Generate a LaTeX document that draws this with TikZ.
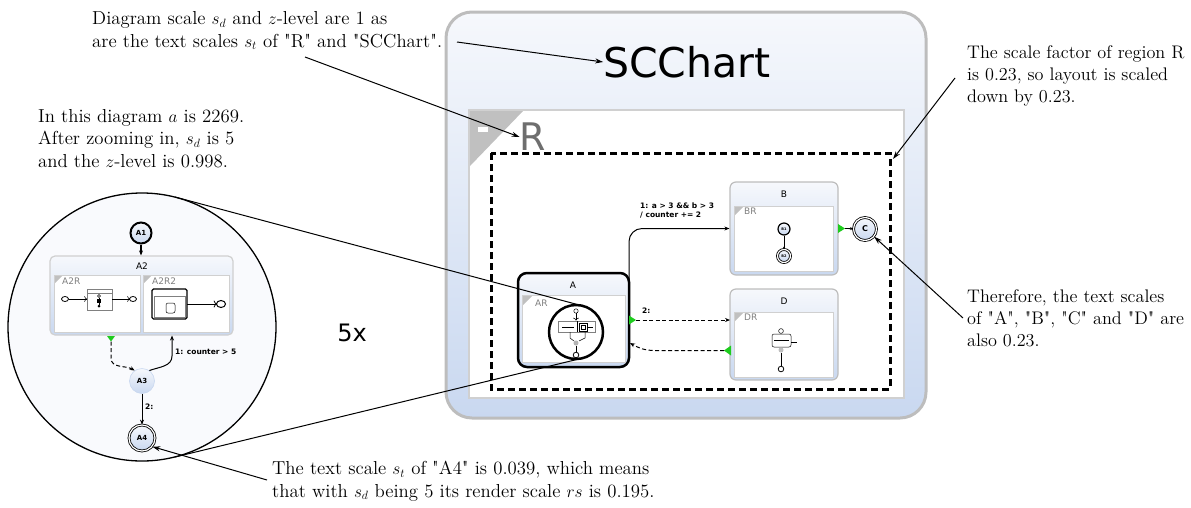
\documentclass[tikz,border=0pt]{standalone}
\usepackage{fontspec}
\newfontfamily\dv{DejaVu Sans}
\newfontfamily\annfam{lmroman12-regular.otf}[ItalicFont=lmroman12-italic.otf,BoldFont=lmroman12-bold.otf]
\usetikzlibrary{arrows.meta,calc}
\definecolor{stT}{HTML}{F6F8FC}
\definecolor{stB}{HTML}{C9D8F0}
\definecolor{bord}{HTML}{BDBDBD}
\definecolor{rbord}{HTML}{D0D0D0}
\definecolor{lgray}{HTML}{808080}
\definecolor{rgray}{HTML}{6E6E6E}
\definecolor{tri}{HTML}{C0C0C0}
\definecolor{grn}{HTML}{1ECC1E}
\definecolor{lensfill}{HTML}{F9FAFD}
\newcommand\annf{\annfam\fontsize{18.8}{22.5}\selectfont}
\newcommand\annfs{\annfam\fontsize{18.2}{22}\selectfont}
\begin{document}
\begin{tikzpicture}[x=1pt,y=-1pt,
  outerbox/.style={rounded corners=26pt,draw=bord,line width=3pt,top color=stT,bottom color=stB,minimum width=480pt,minimum height=406pt,inner sep=0pt},
  stbox/.style={rounded corners=6pt,draw=bord,line width=1.2pt,top color=stT,bottom color=stB,inner sep=0pt},
  regbox/.style={draw=rbord,line width=0.8pt,fill=white,inner sep=0pt},
  simple/.style={circle,draw=black,line width=1.2pt,top color=stT,bottom color=stB,inner sep=0pt},
  final/.style={circle,draw=black,double=white,double distance=1.2pt,line width=0.8pt,top color=stT,bottom color=stB,inner sep=0pt},
  lbl/.style={font=\dv\fontsize{9}{9}\selectfont,inner sep=0pt},
  rlbl/.style={font=\dv\fontsize{9}{9}\selectfont,text=lgray,anchor=west,inner sep=0pt},
  tlbl/.style={font=\dv\bfseries\fontsize{7.5}{9}\selectfont,inner sep=0pt,align=left},
  trans/.style={line width=1pt,-{Stealth[length=5pt,width=4pt]}},
  dtrans/.style={trans,dash pattern=on 4pt off 2.5pt},
  ann/.style={font=\annf,align=left,inner sep=0pt,anchor=base west},
  anns/.style={ann,font=\annfs},
  annarrow/.style={line width=1pt,-{Stealth[length=8pt,width=5pt]}},
  tiny/.style={line width=0.5pt}
]
\useasboundingbox (0,0) rectangle (1191,507);

% ---------------- main chart ----------------
\node[outerbox] (chart) at (686,215) {};
\node[font=\dv\fontsize{41}{41}\selectfont,inner sep=0pt] (title) at (687,62) {SCChart};
\node[regbox,draw=rbord,line width=2pt,minimum width=435pt,minimum height=288pt] (R) at (686.5,254) {};
\fill[tri] (470,111) -- (523,111) -- (470,166) -- cycle;
\fill[white] (478,127) rectangle (488,132);
\node[font=\dv\fontsize{38}{38}\selectfont,text=rgray,inner sep=0pt] (Rl) at (533,137) {R};
\draw[line width=3pt,dash pattern=on 7pt off 4pt] (491,153) rectangle (890,389);

% state A
\node[stbox,draw=black,line width=2.5pt,rounded corners=9pt,minimum width=111pt,minimum height=94pt] (A) at (573.5,320) {};
\node[lbl] (Al) at (573,285) {A};
\node[regbox,minimum width=103pt,minimum height=67pt] (AR) at (573.5,328.5) {};
\fill[tri] (523,296) -- (532,296) -- (523,305) -- cycle;
\node[rlbl] (ARl) at (535,303) {AR};
\node[circle,draw=black,line width=2.5pt,minimum size=54pt,inner sep=0pt,fill=white] (lens) at (576,332) {};
% tiny content of A
\draw[tiny] (576,311) circle (2.2);
\draw[tiny,->] (576,313.2) -- (576,320.5);
\draw[tiny,draw=lgray,fill=white] (558,321) rectangle (595,332);
\draw[tiny] (577,321) -- (577,332);
\draw[tiny] (562,327) -- (574,327);
\draw[tiny,fill=white] (579,323) rectangle (587,331);
\draw[tiny] (581,325) rectangle (585,329);
\draw[tiny] (587,327) -- (593,327);
\draw[tiny] (570,332) -- (570,338) -- (574,341);
\draw[tiny] (585,332) -- (585,338) -- (579,341);
\node[circle,fill=lgray!60,inner sep=0pt,minimum size=5pt] (a3s) at (576,343) {};
\draw[tiny] (a3s) -- (576,352);
\draw[line width=0.8pt] (576,355) circle (2.8);

% state B
\node[stbox,minimum width=108pt,minimum height=93pt] (B) at (784,228.5) {};
\node[lbl] (Bl) at (784,194) {B};
\node[regbox,minimum width=99pt,minimum height=65pt] (BR) at (783.5,238.5) {};
\fill[tri] (735,207) -- (743,207) -- (735,215) -- cycle;
\node[rlbl] (BRl) at (744,211) {BR};
\node[simple,minimum size=12pt,font=\dv\bfseries\fontsize{3.5}{4}\selectfont] (B1) at (784,229) {B1};
\node[final,minimum size=13pt,font=\dv\bfseries\fontsize{3.5}{4}\selectfont] (B2) at (784,256) {B2};
\draw[line width=0.6pt,-{Stealth[length=2.5pt,width=2pt]}] (B1) -- (B2);

% state C
\node[final,minimum size=23pt,font=\dv\bfseries\fontsize{8}{8}\selectfont] (C) at (865,229) {C};
\fill[grn] (838,224) -- (845,228.5) -- (838,233) -- cycle;
\coordinate (bout) at (845,228.5);
\draw[line width=0.8pt,-{Stealth[length=3pt,width=3pt]}] (bout) -- (C);

% state D
\node[stbox,minimum width=108pt,minimum height=91pt] (D) at (784,334.5) {};
\node[lbl] (Dl) at (784,301) {D};
\node[regbox,minimum width=99pt,minimum height=65pt] (DR) at (783.5,344.5) {};
\fill[tri] (735,313) -- (743,313) -- (735,321) -- cycle;
\node[rlbl] (DRl) at (744,317) {DR};
\draw[tiny] (781,331) circle (2.4);
\draw[tiny,fill=white,rounded corners=2pt] (772,334) rectangle (791,347);
\draw[tiny] (774,340) -- (789,340);
\draw[tiny] (791,342) -- (797,342);
\node[circle,fill=lgray!50,inner sep=0pt,minimum size=5pt] (d3s) at (781,350) {};
\draw[tiny] (d3s) -- (781,366);
\draw[line width=0.8pt] (781,369) circle (2.8);

% transitions
\coordinate (t1s) at (629,283);
\draw[trans,rounded corners=13pt] (t1s) |- (B.west);
\node[tlbl,anchor=north west] (t1l) at (640,203) {1: a > 3 \&\& b > 3\\/ counter += 2};
\fill[grn] (629,315.5) -- (636,320) -- (629,324.5) -- cycle;
\coordinate (t2s) at (636,320);
\coordinate (t2e) at (730,320);
\draw[dtrans] (t2s) -- (t2e);
\node[tlbl,anchor=west] (t2l) at (642,311) {2:};
\fill[grn] (731,345.5) -- (724,350.5) -- (731,355.5) -- cycle;
\coordinate (t3s) at (724,350.5);
\coordinate (t3e) at (630,343);
\draw[dtrans] (t3s) -- (655,350.5) to[out=180,in=-30] (t3e);

% ---------------- zoom lens ----------------
\node[circle,draw=black,line width=1.3pt,minimum size=268pt,inner sep=0pt,fill=lensfill] (big) at (142,327) {};
\node[simple,line width=2pt,minimum size=21pt,font=\dv\bfseries\fontsize{7}{7}\selectfont] (A1) at (141,233) {A1};
\node[stbox,rounded corners=5pt,draw=rbord,minimum width=183pt,minimum height=79pt] (A2) at (141.5,295.5) {};
\draw[trans,line width=1.2pt] (A1) -- (A2.north -| A1);
\node[lbl] (A2l) at (142,266) {A2};
\node[regbox,minimum width=86pt,minimum height=57pt] (A2R) at (97,303.5) {};
\node[regbox,minimum width=86pt,minimum height=57pt] (A2R2) at (186,303.5) {};
\fill[tri] (55,276) -- (62,276) -- (55,283) -- cycle;
\fill[tri] (144,276) -- (151,276) -- (144,283) -- cycle;
\node[rlbl] (A2Rl) at (62,281) {A2R};
\node[rlbl] (A2R2l) at (152,281) {A2R2};
% A2R content
\draw[line width=0.8pt] (65,299) ellipse (3.5 and 2.5);
\draw[tiny,->] (68.5,299) -- (87,299);
\draw[tiny,draw=lgray,fill=white] (87,289) rectangle (112,310);
\draw[tiny,draw=lgray] (87,293) -- (112,293);
\draw[tiny] (99,296) circle (1.5);
\fill (97,299) rectangle (101,303);
\fill (99,306) circle (1.5);
\draw[tiny] (99,297.5) -- (99,304.5);
\draw[tiny,->] (112,299) -- (130,299);
\draw[line width=0.8pt] (133,299) ellipse (3.5 and 2.5);
% A2R2 content
\draw[line width=1.2pt,rounded corners=1.5pt,fill=white] (152,289) rectangle (187,319);
\draw[tiny,draw=lgray] (154,296) rectangle (185,317);
\draw[tiny,rounded corners=2pt] (166,303) rectangle (175,313);
\draw[line width=0.8pt,->] (187,304) -- (217,304);
\draw[line width=1pt] (221,304) ellipse (4.5 and 3.5);
% A3, A4
\node[circle,draw=stB,line width=0.6pt,top color=stT,bottom color=stB,minimum size=25pt,inner sep=0pt,font=\dv\bfseries\fontsize{7}{7}\selectfont] (A3) at (142,381) {A3};
\node[final,minimum size=26pt,font=\dv\bfseries\fontsize{7}{7}\selectfont] (A4) at (142,438) {A4};
\fill[grn] (107,336) -- (115,336) -- (111,341.5) -- cycle;
\coordinate (a2out) at (111,341.5);
\draw[dtrans] (a2out) -- (111,358) to[out=-90,in=150] (A3.125);
\coordinate (a2in) at (172,335.5);
\draw[trans] (A3.55) to[out=20,in=-90] (172,356) -- (a2in);
\node[tlbl,anchor=west] (l1) at (175,352) {1: counter > 5};
\draw[trans] (A3) -- (A4);
\node[tlbl,anchor=west] (l2) at (145,407) {2:};

% lens connectors (common tangents)
\coordinate (bigtop) at (175,197);
\coordinate (bigbot) at (175,457);
\coordinate (smtop) at (583,306);
\coordinate (smbot) at (583,358);
\draw[line width=1pt] (bigtop) -- (smtop);
\draw[line width=1pt] (bigbot) -- (smbot);

\node[font=\dv\fontsize{24}{24}\selectfont,inner sep=0pt] (zoomf) at (352,333) {5x};

% ---------------- annotations ----------------
\node[ann] (n1) at (92,47) {Diagram scale $s_d$ and $z$-level are 1 as\\are the text scales $s_t$ of "R" and "SCChart".};
\node[ann] (n2) at (38,167) {In this diagram $a$ is 2269.\\After zooming in, $s_d$ is 5\\and the $z$-level is 0.998.};
\node[anns] (n3) at (967,102) {The scale factor of region R\\is 0.23, so layout is scaled\\down by 0.23.};
\node[anns] (n4) at (967,346) {Therefore, the text scales\\of "A", "B", "C" and "D" are\\also 0.23.};
\node[ann] (n5) at (272,497) {The text scale $s_t$ of "A4" is 0.039, which means\\that with $s_d$ being 5 its render scale $rs$ is 0.195.};

\coordinate (p1) at (457,42);
\coordinate (p2) at (305,57);
\coordinate (p3) at (955,78);
\coordinate (q3) at (893,159);
\coordinate (p4) at (963,318);
\coordinate (p5) at (267,480);
\draw[annarrow] (p1) -- (title.west);
\draw[annarrow] (p2) -- (Rl.west);
\draw[annarrow] (p3) -- (q3);
\draw[annarrow] (p4) -- (C.-40);
\draw[annarrow] (p5) -- (A4.-40);
\end{tikzpicture}
\end{document}
